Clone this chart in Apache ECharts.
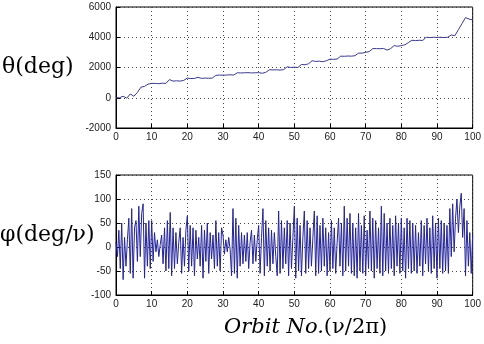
<!DOCTYPE html>
<html>
<head>
<meta charset="utf-8">
<script src="https://cdn.jsdelivr.net/npm/echarts@6/dist/echarts.min.js"></script>
<style>
  html, body { margin: 0; padding: 0; background: #fff; }
  #chart { width: 484px; height: 344px; }
</style>
</head>
<body>
<div id="chart"></div>
<script>
// theta (deg), one sample per orbit 0..100
const thetaValues = [
  0, 0, 100, -30, 250, 100, 350, 700, 750, 900,
  950, 950, 930, 960, 950, 1200, 1100, 1120, 1100, 1150,
  1300, 1270, 1280, 1350, 1280, 1300, 1290, 1300, 1480, 1500,
  1490, 1500, 1520, 1500, 1650, 1640, 1650, 1660, 1640, 1650,
  1660, 1620, 1680, 1850, 1840, 1850, 1830, 1860, 2050, 2000,
  2020, 2000, 2200, 2180, 2250, 2450, 2400, 2420, 2380, 2450,
  2550, 2540, 2560, 2750, 2740, 2760, 2750, 2780, 2950, 2950,
  3000, 3050, 3250, 3250, 3240, 3260, 3150, 3250, 3450, 3400,
  3450, 3500, 3650, 3800, 3780, 3800, 3790, 4000, 3980, 4000,
  3990, 4000, 3980, 4000, 4150, 4100, 4500, 4900, 5300, 5200,
  5150
];
const thetaStep = 1;

// phi (deg/nu), 25 samples per 10 orbits, 0..100
const phiValues = [
  10, -20, 35, -45, 50, -68, 20, -40, 15, 60, -55, 80, -65, 40, 55, -30, 85, -20, 70, 90, -65, 50, -40, 55, -45,
  55, -30, 30, -10, 15, -20, 5, 25, -35, 40, -50, 55, -45, 72, -60, 40, -45, 30, -35, 10, 40, -55, 20, -40, 35,
  65, -50, 45, -40, 40, -60, 35, -25, 20, -40, 45, -65, 35, -30, 50, -55, 30, -25, 25, -45, 55, -40, 30, -50, 40,
  25, -15, 15, -10, 20, -5, -60, 80, -55, 60, -65, 45, -40, 30, -35, 25, -30, 30, -45, 10, 35, -35, 25, -30, 15,
  45, -55, 20, 80, -60, 55, -40, 40, -50, 35, -35, 30, -20, -60, 75, -55, 55, -45, 40, -35, 55, -60, 50, -45, 20,
  85, -65, 60, -50, 45, -60, 20, 75, -55, 55, -45, 40, -40, 20, 75, -60, 65, -55, 45, -50, 60, -40, 40, -60, 30,
  -50, 55, -45, 40, -55, 10, 60, -40, 50, -60, 85, -50, 60, -40, 70, -55, 50, -60, 40, -65, 70, -50, 45, -55, 65,
  -60, 35, -45, 75, -50, 60, -65, 55, -45, 40, -55, 85, -60, 70, -50, 50, -55, 60, -45, 45, -60, 65, -40, 50, -55,
  60, -50, 40, -65, 60, -45, 55, -55, 50, -50, 45, -55, 30, -40, 55, -60, 45, -35, 60, -50, 40, -55, 65, -45, 50,
  -65, 60, -45, 55, -55, 50, -50, 45, -55, 80, -20, 90, -10, 60, 100, 30, 85, 112, 20, 80, -60, 55, -40, 30, -55,
  25
];
const phiStep = 0.4;

const orbitTicks = { min: 0, max: 100, interval: 10 };
const thetaTicks = { min: -2000, max: 6000, interval: 2000 };
const phiTicks = { min: -100, max: 150, interval: 50 };

const labelFont = { fontFamily: "Liberation Sans", fontSize: 10, color: "#222" };

function axisX(gridIndex) {
  return {
    type: "value",
    gridIndex,
    ...orbitTicks,
    axisLine: { onZero: false, lineStyle: { color: "#000" } },
    axisTick: { inside: true, length: 4, lineStyle: { color: "#000" } },
    axisLabel: { ...labelFont, margin: 4, showMinLabel: true, showMaxLabel: true },
    splitLine: { show: true, lineStyle: { type: [1, 3], color: "#444" } },
  };
}

function axisY(gridIndex, ticks) {
  return {
    type: "value",
    gridIndex,
    ...ticks,
    axisLine: { show: true, onZero: false, lineStyle: { color: "#000" } },
    axisTick: { show: true, inside: true, length: 4, lineStyle: { color: "#000" } },
    axisLabel: { ...labelFont, margin: 5, formatter: (v) => String(v) },
    splitLine: { show: true, lineStyle: { type: [1, 3], color: "#444" } },
  };
}

const chart = echarts.init(document.getElementById("chart"), null, { renderer: "canvas" });

chart.setOption({
  backgroundColor: "#fff",
  animation: false,
  grid: [
    { left: 116, right: 6, top: 7, height: 121, show: true, borderColor: "#000", borderWidth: 1 },
    { left: 116, right: 6, top: 175, height: 120, show: true, borderColor: "#000", borderWidth: 1 },
  ],
  xAxis: [axisX(0), axisX(1)],
  yAxis: [axisY(0, thetaTicks), axisY(1, phiTicks)],
  series: [
    {
      type: "line",
      xAxisIndex: 0,
      yAxisIndex: 0,
      showSymbol: false,
      lineStyle: { color: "#3a3a8c", width: 1 },
      data: thetaValues.map((v, i) => [i * thetaStep, v]),
    },
    {
      type: "line",
      xAxisIndex: 1,
      yAxisIndex: 1,
      showSymbol: false,
      lineStyle: { color: "#24249a", width: 1 },
      data: phiValues.map((v, i) => [i * phiStep, v]),
    },
  ],
  graphic: [
    {
      type: "text",
      left: 2,
      top: 56,
      style: { text: "θ(deg)", font: '22px "DejaVu Serif"', fill: "#000" },
    },
    {
      type: "text",
      left: 0,
      top: 224,
      style: { text: "φ(deg/ν)", font: '22px "DejaVu Serif"', fill: "#000" },
    },
    {
      type: "text",
      left: 224,
      top: 317,
      style: {
        text: "{i|Orbit No.}{n|(ν/2π)}",
        rich: {
          i: { font: 'italic 21px "DejaVu Serif"', fill: "#000" },
          n: { font: '21px "DejaVu Serif"', fill: "#000" },
        },
      },
    },
  ],
});
</script>
</body>
</html>
